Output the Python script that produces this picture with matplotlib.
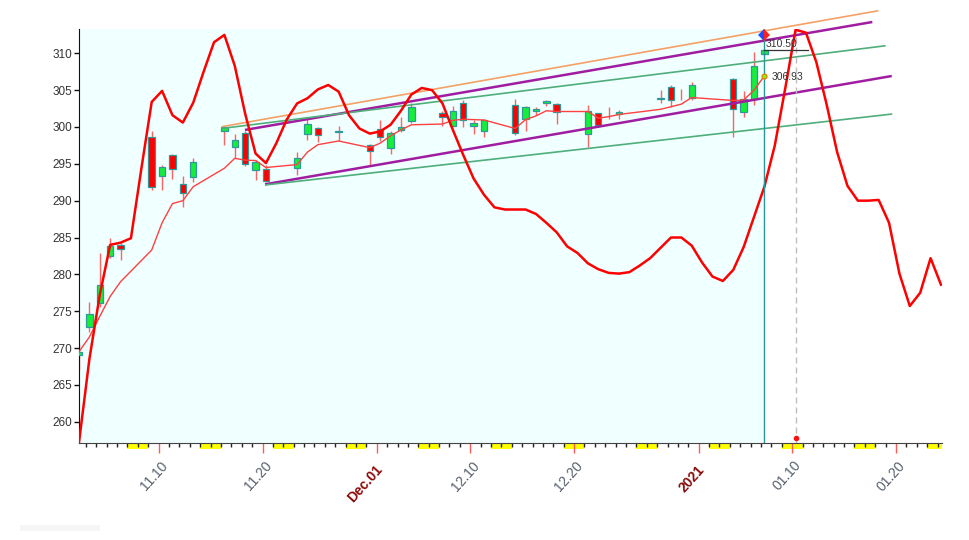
import matplotlib
matplotlib.use("Agg")
import matplotlib.pyplot as plt
import matplotlib.dates as mdates
import matplotlib.transforms as mtransforms
from matplotlib.patches import Rectangle
import numpy as np
import pandas as pd

plt.rcParams['font.family'] = ['Liberation Sans', 'DejaVu Sans']

# daily candles (trading days only)
dates = ['2020-11-02', '2020-11-03', '2020-11-04', '2020-11-05', '2020-11-06',
         '2020-11-09', '2020-11-10', '2020-11-11', '2020-11-12', '2020-11-13',
         '2020-11-16', '2020-11-17', '2020-11-18', '2020-11-19', '2020-11-20',
         '2020-11-23', '2020-11-24', '2020-11-25', '2020-11-27',
         '2020-11-30', '2020-12-01', '2020-12-02', '2020-12-03', '2020-12-04',
         '2020-12-07', '2020-12-08', '2020-12-09', '2020-12-10', '2020-12-11',
         '2020-12-14', '2020-12-15', '2020-12-16', '2020-12-17', '2020-12-18',
         '2020-12-21', '2020-12-22', '2020-12-23', '2020-12-24',
         '2020-12-28', '2020-12-29', '2020-12-30', '2020-12-31',
         '2021-01-04', '2021-01-05', '2021-01-06', '2021-01-07']
opens = [269.1, 272.8, 276.1, 282.5, 284.0,
         298.6, 293.4, 296.2, 292.2, 293.2,
         299.5, 297.3, 299.2, 294.2, 294.3,
         294.4, 299.05, 299.9, 299.35,
         297.6, 299.7, 297.2, 299.55, 300.8,
         301.9, 300.2, 303.2, 300.1, 299.5,
         303.0, 301.05, 302.2, 303.3, 303.1,
         299.05, 301.85, 301.6, 301.75,
         303.85, 305.4, 304.4, 304.0,
         306.5, 302.1, 303.8, 309.9]
highs = [270.6, 276.3, 282.9, 284.9, 284.2,
         299.4, 294.9, 296.3, 293.4, 295.8,
         300.1, 299.1, 299.5, 295.5, 294.9,
         296.6, 301.2, 300.0, 300.2,
         297.7, 301.0, 299.4, 301.3, 303.2,
         302.2, 302.85, 303.6, 300.9, 301.1,
         303.8, 302.8, 302.75, 303.7, 303.2,
         303.0, 301.9, 302.7, 302.3,
         305.0, 305.7, 305.1, 306.15,
         306.6, 304.9, 310.2, 310.6]
lows = [267.0, 272.2, 275.6, 282.2, 281.9,
        291.4, 291.4, 292.9, 289.2, 292.5,
        297.5, 295.75, 294.7, 292.8, 292.5,
        293.5, 298.2, 298.0, 298.1,
        294.85, 298.1, 296.3, 299.3, 300.6,
        300.1, 300.1, 300.0, 299.1, 298.7,
        298.9, 299.45, 301.6, 302.85, 300.35,
        297.3, 300.0, 301.1, 301.05,
        303.2, 302.7, 303.65, 303.65,
        298.7, 301.3, 303.0, 309.8]
closes = [269.4, 274.6, 278.5, 283.9, 283.4,
          291.8, 294.6, 294.3, 291.1, 295.2,
          300.0, 298.3, 295.0, 295.3, 292.7,
          295.8, 300.4, 298.9, 299.45,
          296.7, 298.6, 299.2, 300.0, 302.7,
          301.3, 302.2, 301.0, 300.5, 301.0,
          299.2, 302.7, 302.5, 303.5, 302.1,
          302.15, 300.25, 301.6, 302.1,
          303.9, 303.65, 304.4, 305.7,
          302.4, 303.75, 308.3, 310.5]
ma_line = [269.5, 271.5, 274.3, 277.0, 279.0,
           283.3, 287.0, 289.6, 290.0, 291.9,
           294.4, 295.75, 295.5, 295.45, 294.5,
           294.9, 296.6, 297.6, 298.1,
           297.2, 297.8, 298.8, 299.6, 300.3,
           300.4, 300.9, 301.05, 301.0, 300.95,
           299.8, 301.0, 301.5, 302.2, 302.1,
           302.1, 301.2, 301.4, 301.7,
           302.4, 302.75, 303.1, 304.0,
           303.6, 303.65, 305.0, 306.93]

# projected cycle curve, one value per calendar day from 2020-11-02
cycle_curve = [257.2, 268.5, 277.2, 284.0, 284.3, 284.9, 294.3, 303.4, 304.9, 301.6,
               300.6, 303.3, 307.5, 311.5, 312.5, 308.3, 301.8, 296.4, 295.1, 297.8,
               301.0, 303.2, 303.9, 305.1, 305.7, 304.8, 301.6, 299.8, 299.1, 299.4,
               300.3, 302.2, 304.4, 305.3, 305.0, 303.2, 299.6, 296.2, 293.0, 290.8,
               289.1, 288.8, 288.8, 288.8, 288.2, 287.0, 285.7, 283.8, 282.9, 281.5,
               280.7, 280.2, 280.1, 280.3, 281.2, 282.2, 283.6, 285.0, 285.0, 283.9,
               281.6, 279.7, 279.1, 280.6, 283.7, 287.8, 291.9, 297.5, 305.2, 313.2,
               312.8, 308.8, 303.0, 296.6, 292.0, 290.0, 290.0, 290.1, 287.0, 280.1,
               275.7, 277.5, 282.2, 278.6]

# channel lines: colour, width, start day, start price, end day, end price (days from first candle)
trend_lines = [
    ('#F5A066', 1.2, 13.74, 300.04, 76.97, 315.78),
    ('#A01CA0', 1.8, 15.98, 299.60, 76.39, 314.25),
    ('#4FAE7B', 1.2, 13.74, 299.80, 77.68, 311.03),
    ('#A01CA0', 1.8, 17.91, 292.22, 78.26, 306.92),
    ('#4FAE7B', 1.2, 17.91, 292.13, 78.31, 301.76),
]

tick_dates = ['2020-11-10', '2020-11-20', '2020-12-01', '2020-12-10',
              '2020-12-20', '2021-01-01', '2021-01-10', '2021-01-20']
tick_labels = ['11.10', '11.20', 'Dec.01', '12.10', '12.20', '2021', '01.10', '01.20']
tick_bold = [False, False, True, False, False, True, False, False]

last_close = 310.50
marker_price = 312.52
cursor_day = '2021-01-10'

SHIFT = 0.33  # candles sit a third into the day
cx = mdates.date2num(pd.to_datetime(dates).to_pydatetime()) + SHIFT
x0 = cx[0]
x_last = cx[-1]
x_right = x0 + 83.1

fig = plt.figure(figsize=(9.69, 5.40), dpi=100)
ax = fig.add_axes([79 / 969, 1 - 443 / 540, (942 - 79) / 969, (443 - 29) / 540])
ax.set_facecolor('white')
ax.set_xlim(x0, x_right)
ax.set_ylim(257.11, 313.30)

ax.axvspan(x0, x_last, color='#F0FFFF', lw=0, zorder=0)

# candles
o = np.array(opens); c = np.array(closes)
up = c >= o
ax.vlines(cx, lows, highs, color='#FF6464', lw=1, zorder=2)
body = np.abs(c - o)
keep = body > 0
ax.bar(cx[keep], body[keep], bottom=np.minimum(o, c)[keep], width=0.62,
       color=np.where(up, '#16EE3A', '#FF0000')[keep], edgecolor='#2C9A9A',
       linewidth=0.9, zorder=3)

ax.plot(cx, ma_line, color='#FF4040', lw=1.0, zorder=4)

for col, lw, d1, p1, d2, p2 in trend_lines:
    ax.plot([x0 + d1, x0 + d2], [p1, p2], color=col, lw=lw, zorder=5,
            clip_on=False, solid_capstyle='butt')

curve_x = x0 + np.arange(len(cycle_curve))
ax.plot(curve_x, cycle_curve, color='#FF0000', lw=1.8, zorder=6)

# cursor lines
ax.axvline(x_last, color='#2A9595', lw=1, zorder=7)
xc = mdates.date2num(pd.Timestamp(cursor_day).to_pydatetime()) + SHIFT
ax.axvline(xc, color='#BDBDBD', lw=1, linestyle=(0, (4.3, 2.9)), zorder=5)
ax.plot(xc, 257.79, 'o', ms=3, color='#FF1010', zorder=8, clip_on=False)

ax.plot([x_last, x_last + 4.24], [last_close, last_close], color='#333333', lw=0.9, zorder=8)
ax.text(x_last + 0.1, 310.9, f'{last_close:.2f}', fontsize=7.5, color='#333333',
        va='baseline', ha='left', zorder=9)
ax.plot(x_last, marker_price, marker='D', ms=6, fillstyle='left',
        markerfacecolor='#1E4FFF', markerfacecoloralt='#FF2020',
        markeredgewidth=0, zorder=9, clip_on=False)
ax.plot(x_last, ma_line[-1], 'o', ms=3.5, mfc='#7CFC00', mec='#E08000', mew=0.9, zorder=9)
ax.text(x_last + 0.66, 306.37, f'{ma_line[-1]:.2f}', fontsize=7.5, color='#333333',
        va='baseline', ha='left', zorder=9)

# weekend marks under the axis
trans = mtransforms.blended_transform_factory(ax.transData, ax.transAxes)
for sat in pd.date_range('2020-10-31', '2021-01-24', freq='W-SAT'):
    a = mdates.date2num(sat.to_pydatetime())
    b = min(a + 2, x_right)
    a = max(a, x0)
    if b > a:
        ax.add_patch(Rectangle((a, -6 / 414), b - a, 6 / 414, transform=trans,
                               facecolor='#FFFF00', edgecolor='none', clip_on=False, zorder=1))

# faint smudge at the bottom-left corner of the screenshot
fig.patches.append(Rectangle((20 / 969, 1 - 531 / 540), 80 / 969, 6 / 540,
                             transform=fig.transFigure, facecolor='#F6F6F6',
                             edgecolor='none'))

# axes styling
for s in ['top', 'right']:
    ax.spines[s].set_visible(False)
ax.spines['left'].set_color('#111111')
ax.spines['bottom'].set_color('#444444')
ax.set_yticks(np.arange(260, 311, 5))
ax.tick_params(axis='y', length=3.6, width=1, color='#111111', labelsize=8.5,
               labelcolor='#333333', pad=1.5)

tx = mdates.date2num(pd.to_datetime(tick_dates).to_pydatetime())
ax.set_xticks(tx)
ax.set_xticklabels([])
ax.xaxis.set_minor_locator(mdates.DayLocator())
ax.tick_params(axis='x', which='major', length=7.2, width=1, color='#FF5A5A')
ax.tick_params(axis='x', which='minor', length=2.6, width=1, color='#222222')

for x, lab, bold in zip(tx, tick_labels, tick_bold):
    off = (2.3, -17.5) if bold else (4.8, -14.5)
    ax.annotate(lab, xy=(x, 0), xycoords=('data', 'axes fraction'),
                xytext=off, textcoords='offset points', rotation=48,
                rotation_mode='anchor', ha='right', va='center',
                fontsize=10, fontweight='bold' if bold else 'normal',
                color='#8B0A0A' if bold else '#56606C', annotation_clip=False)

fig.savefig('out.png', dpi=100)
